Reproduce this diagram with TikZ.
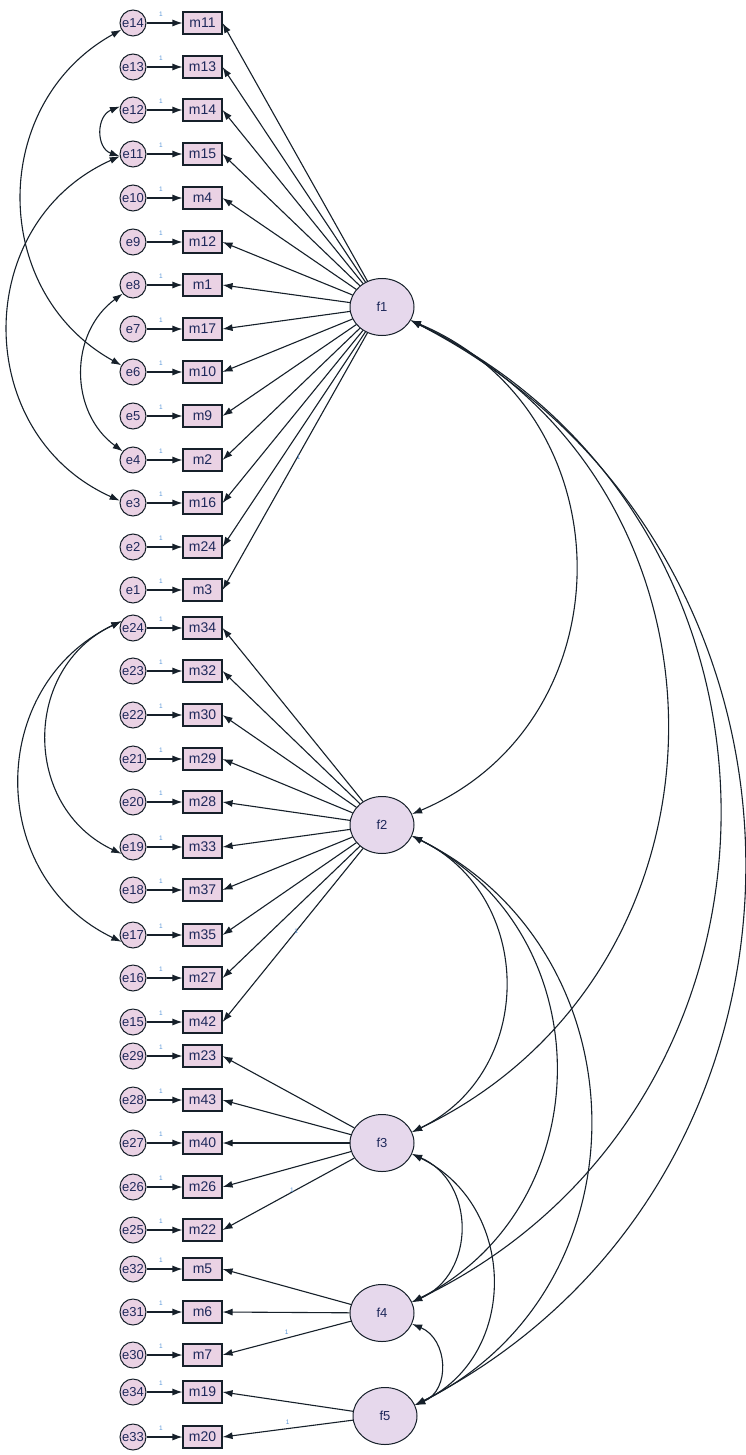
\documentclass[tikz,border=0pt]{standalone}
\usepackage{fontspec}
\setmainfont{Liberation Sans}
\usetikzlibrary{arrows.meta,shapes.geometric}
\definecolor{linec}{RGB}{22,32,42}
\definecolor{boxfill}{RGB}{234,210,228}
\definecolor{facfill}{RGB}{230,216,236}
\definecolor{txtc}{RGB}{30,40,90}
\definecolor{onec}{RGB}{90,150,215}
\begin{document}
\begin{tikzpicture}[x=1pt,y=-1pt,
  errc/.style={circle,draw=linec,fill=boxfill,line width=1pt,minimum size=26pt,inner sep=0pt,font=\fontsize{13}{13}\selectfont,text=txtc},
  obsv/.style={rectangle,draw=linec,fill=boxfill,line width=1.1pt,minimum width=39pt,minimum height=22pt,inner sep=0pt,font=\fontsize{14}{14}\selectfont,text=txtc},
  latent/.style={ellipse,draw=linec,fill=facfill,line width=1pt,minimum width=64pt,minimum height=57pt,inner sep=0pt,font=\fontsize{13}{13}\selectfont,text=txtc},
  patharrow/.style={-{Latex[length=10pt,width=7pt]},line width=1.1pt,draw=linec},
  cov/.style={{Latex[length=10pt,width=7pt]}-{Latex[length=10pt,width=7pt]},line width=1.1pt,draw=linec},
  onelab/.style={font=\fontsize{6.5}{6.5}\selectfont,text=onec,inner sep=0.5pt}]
\useasboundingbox[fill=white] (0,0) rectangle (746,1455);
% indicators with their error terms
\foreach \e/\m/\y in {14/11/23, 13/13/67, 12/14/110, 11/15/154, 10/4/198, 9/12/242, 8/1/285,
  7/17/329, 6/10/372, 5/9/416, 4/2/460, 3/16/503, 2/24/547, 1/3/590,
  24/34/628, 23/32/671, 22/30/715, 21/29/759, 20/28/802, 19/33/847, 18/37/890, 17/35/935, 16/27/978, 15/42/1022,
  29/23/1056, 28/43/1100, 27/40/1143, 26/26/1187, 25/22/1230,
  32/5/1269, 31/6/1312, 30/7/1355, 34/19/1392, 33/20/1437}{
  \node[errc] (e\e) at (133,\y) {e\e};
  \node[obsv] (m\m) at (202.5,\y) {m\m};
  \draw[patharrow] (e\e) -- (m\m) node[onelab,pos=0.4,above=5pt] {1};
}
% latent factors
\node[latent] (f1) at (382,307) {f1};
\node[latent] (f2) at (382,825) {f2};
\node[latent] (f3) at (382,1143) {f3};
\node[latent] (f4) at (382,1313) {f4};
\node[latent] (f5) at (385,1416) {f5};
% loadings
\foreach \m in {11,13,14,15,4,12,1,17,10,9,2,16,24,3} \draw[patharrow] (f1) -- (m\m.east);
\foreach \m in {34,32,30,29,28,33,37,35,27,42} \draw[patharrow] (f2) -- (m\m.east);
\foreach \m in {23,43,40,26,22} \draw[patharrow] (f3) -- (m\m.east);
\foreach \m in {5,6,7} \draw[patharrow] (f4) -- (m\m.east);
\foreach \m in {19,20} \draw[patharrow] (f5) -- (m\m.east);
\path (f1) -- (m3.east) node[onelab,midway,above right=1pt] {1};
\path (f2) -- (m42.east) node[onelab,midway,above right=1pt] {1};
\path (f3) -- (m22.east) node[onelab,midway,above right=1pt] {1};
\path (f4) -- (m7.east) node[onelab,midway,above=3pt] {1};
\path (f5) -- (m20.east) node[onelab,midway,above=3pt] {1};
% error covariances
\draw[cov] (e14.210) .. controls (-11,103) and (-11,292) .. (e6.150);
\draw[cov] (e12.165) .. controls (96,116) and (96,148) .. (e11.190);
\draw[cov] (e11.190) .. controls (-29,223) and (-29,434) .. (e3.170);
\draw[cov] (e8.220) .. controls (69,333) and (69,412) .. (e4.140);
\draw[cov] (e24.150) .. controls (22,668) and (22,807) .. (e19.210);
\draw[cov] (e24.150) .. controls (-14,686) and (-14,877) .. (e17.210);
% factor covariances
\draw[cov] (f1.-25) .. controls (629,412) and (630,722) .. (f2.20);
\draw[cov] (f1.-25) .. controls (751,483) and (752,969) .. (f3.20);
\draw[cov] (f1.-25) .. controls (821,519) and (822,1104) .. (f4.20);
\draw[cov] (f1.-25) .. controls (852,547) and (856,1178) .. (f5.20);
\draw[cov] (f2.-20) .. controls (536,896) and (536,1072) .. (f3.20);
\draw[cov] (f2.-20) .. controls (603,932) and (603,1206) .. (f4.20);
\draw[cov] (f2.-20) .. controls (647,952) and (650,1289) .. (f5.20);
\draw[cov] (f3.-20) .. controls (476,1182) and (476,1274) .. (f4.20);
\draw[cov] (f3.-20) .. controls (517,1205) and (520,1355) .. (f5.20);
\draw[cov] (f4.-20) .. controls (448,1339) and (451,1390) .. (f5.20);
\end{tikzpicture}
\end{document}
